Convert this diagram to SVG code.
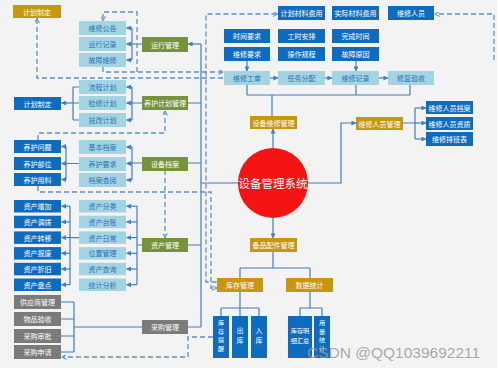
<svg xmlns="http://www.w3.org/2000/svg" width="499" height="368" viewBox="0 0 499 368">
<defs>
<marker id="ar" viewBox="0 0 6 6" refX="5.5" refY="3" markerWidth="5" markerHeight="5" markerUnits="userSpaceOnUse" orient="auto"><path d="M0,0 L6,3 L0,6 z" fill="#3f7fc4"/></marker>
<marker id="ad" viewBox="0 0 6 6" refX="5.5" refY="3" markerWidth="5" markerHeight="5" markerUnits="userSpaceOnUse" orient="auto"><path d="M0,0 L6,3 L0,6" fill="none" stroke="#5b8fd0" stroke-width="1.2"/></marker>
</defs>
<style>
text{font-family:"Noto Sans CJK SC","Noto Sans",sans-serif;font-size:7px;text-anchor:middle;dominant-baseline:central}
.v{font-size:6.2px}
.w{fill:#fff}
.lbt{fill:#2c6fb8}
.gold{fill:#c8960f}
.green{fill:#76923b}
.blue{fill:#0e6cc0}
.lb{fill:#a3d4e2}
.gray{fill:#7b7b7b}
.c path,.c line,.c polyline{fill:none;stroke:#3f7fc4;stroke-width:1.2}
.d path{fill:none;stroke:#5b8fd0;stroke-width:1.3;stroke-dasharray:5,3}
</style>
<rect width="499" height="368" fill="#f3f3f3"/>
<rect x="497" width="2" height="368" fill="#ffffff"/>

<g id="connectors">
<g class="c">
<line x1="247" y1="61" x2="247" y2="71" marker-end="url(#ar)"/>
<line x1="356" y1="61" x2="356" y2="71" marker-end="url(#ar)"/>
<line x1="270" y1="78" x2="278" y2="78" marker-end="url(#ar)"/>
<line x1="325" y1="78" x2="332" y2="78" marker-end="url(#ar)"/>
<line x1="379" y1="78" x2="388" y2="78" marker-end="url(#ar)"/>
<path d="M247,85 V95 M356,85 V95 M410,85 V95 M247,95 H410 M272,95 V116"/>
<line x1="273" y1="148" x2="273" y2="129" marker-end="url(#ar)"/>
<line x1="273" y1="218" x2="273" y2="238" marker-end="url(#ar)"/>
<path d="M308,183 H341 V123 H356" marker-end="url(#ar)"/>
<path d="M403,123 H415 M415,108 V139"/>
<line x1="415" y1="108" x2="426" y2="108" marker-end="url(#ar)"/>
<line x1="415" y1="123" x2="426" y2="123" marker-end="url(#ar)"/>
<line x1="415" y1="139" x2="426" y2="139" marker-end="url(#ar)"/>
<path d="M238,183 H201 M201,44 V327"/>
<line x1="201" y1="44" x2="188" y2="44" marker-end="url(#ar)"/>
<path d="M201,103 H188 M201,163 H188 M201,245 H188 M201,327 H188"/>
<path d="M142,44 H132 M132,28 V60"/>
<line x1="132" y1="28" x2="126.5" y2="28" marker-end="url(#ar)"/>
<line x1="132" y1="44" x2="126.5" y2="44" marker-end="url(#ar)"/>
<line x1="132" y1="60" x2="126.5" y2="60" marker-end="url(#ar)"/>
<path d="M142,103 H132 M132,87 V120"/>
<line x1="132" y1="87" x2="126.5" y2="87" marker-end="url(#ar)"/>
<line x1="132" y1="103" x2="126.5" y2="103" marker-end="url(#ar)"/>
<line x1="132" y1="120" x2="126.5" y2="120" marker-end="url(#ar)"/>
<path d="M79,87 H73 M79,103 H73 M79,120 H73 M73,87 V120"/>
<line x1="73" y1="103" x2="61.5" y2="103" marker-end="url(#ar)"/>
<path d="M142,163 H132 M132,147 V180"/>
<line x1="132" y1="147" x2="126.5" y2="147" marker-end="url(#ar)"/>
<line x1="132" y1="163.5" x2="126.5" y2="163.5" marker-end="url(#ar)"/>
<line x1="132" y1="180" x2="126.5" y2="180" marker-end="url(#ar)"/>
<path d="M79,163.5 H66 M66,146.5 V179.5"/>
<line x1="66" y1="146.5" x2="61.5" y2="146.5" marker-end="url(#ar)"/>
<line x1="66" y1="163.5" x2="61.5" y2="163.5" marker-end="url(#ar)"/>
<line x1="66" y1="179.5" x2="61.5" y2="179.5" marker-end="url(#ar)"/>
<path d="M142,245 H137 M137,206 V284.5"/>
<line x1="137" y1="206.2" x2="126.5" y2="206.2" marker-end="url(#ar)"/>
<line x1="137" y1="221.9" x2="126.5" y2="221.9" marker-end="url(#ar)"/>
<line x1="137" y1="237.6" x2="126.5" y2="237.6" marker-end="url(#ar)"/>
<line x1="137" y1="253.3" x2="126.5" y2="253.3" marker-end="url(#ar)"/>
<line x1="137" y1="269" x2="126.5" y2="269" marker-end="url(#ar)"/>
<line x1="137" y1="284.7" x2="126.5" y2="284.7" marker-end="url(#ar)"/>
<path d="M79,237.6 H70 M70,206.2 V284.7"/>
<line x1="70" y1="206.2" x2="61.5" y2="206.2" marker-end="url(#ar)"/>
<line x1="70" y1="221.9" x2="61.5" y2="221.9" marker-end="url(#ar)"/>
<line x1="70" y1="237.6" x2="61.5" y2="237.6" marker-end="url(#ar)"/>
<line x1="70" y1="253.3" x2="61.5" y2="253.3" marker-end="url(#ar)"/>
<line x1="70" y1="269" x2="61.5" y2="269" marker-end="url(#ar)"/>
<line x1="70" y1="284.7" x2="61.5" y2="284.7" marker-end="url(#ar)"/>
<path d="M61,302 H74 M61,319 H74 M61,336 H74 M61,352 H74 M74,302 V352 M74,327 H142"/>
<path d="M273,252 V268 M240,268 H310 M240,268 V278 M310,268 V278"/>
<path d="M240,292 V308 M221,308 H259 M221,308 V316 M240,308 V316 M259,308 V316"/>
<path d="M310,292 V308 M300,308 H322 M300,308 V316 M322,308 V316"/>
</g>
<g class="d">
<path d="M137,72 V12 H103 V20.5" marker-end="url(#ad)"/>
<path d="M103,67 V72 H223" marker-end="url(#ad)"/>
<path d="M223,78 H37 V18.5" marker-end="url(#ad)"/>
<path d="M38,140 V133 H165 V111" marker-end="url(#ad)"/>
<path d="M165,170 V237.5" marker-end="url(#ad)"/>
<path d="M38,186 V192 H211 V288 H216.5" marker-end="url(#ad)"/>
<path d="M216.5,282 H206 V14 H277.5" marker-end="url(#ad)"/>
<path d="M494,60 V14 H435" marker-end="url(#ad)"/>
<path d="M213,337 H188 V357 H62" marker-end="url(#ad)"/>
</g>
</g>

<g id="n_plan1"><rect class="gold" x="13" y="5" width="48" height="13"/><text class="w" x="37" y="11.5">计划制定</text></g>
<g id="n_wxgg"><rect class="lb" x="79" y="21" width="47" height="14"/><text class="lbt" x="102.5" y="28">维修公告</text></g>
<g id="n_yxjl"><rect class="lb" x="79" y="37" width="47" height="14"/><text class="lbt" x="102.5" y="44">运行记录</text></g>
<g id="n_gzwx"><rect class="lb" x="79" y="53" width="47" height="14"/><text class="lbt" x="102.5" y="60">故障维修</text></g>
<g id="n_yxgl"><rect class="green" x="142" y="37" width="46" height="15"/><text class="w" x="165" y="44.5">运行管理</text></g>

<g id="n_plan2"><rect class="blue" x="14" y="97" width="47" height="13"/><text class="w" x="37.5" y="103.5">计划制定</text></g>
<g id="n_lcjh"><rect class="lb" x="79" y="80" width="47" height="14"/><text class="lbt" x="102.5" y="87">流程计划</text></g>
<g id="n_jxjh"><rect class="lb" x="79" y="96" width="47" height="14"/><text class="lbt" x="102.5" y="103">检修计划</text></g>
<g id="n_jgjh"><rect class="lb" x="79" y="113" width="47" height="14"/><text class="lbt" x="102.5" y="120">技改计划</text></g>
<g id="n_yhjhgl"><rect class="green" x="142" y="96" width="46" height="14"/><text class="w" x="165" y="103">养护计划管理</text></g>

<g id="n_yhwt"><rect class="blue" x="14" y="140" width="47" height="13"/><text class="w" x="37.5" y="146.5">养护问题</text></g>
<g id="n_yhbw"><rect class="blue" x="14" y="157" width="47" height="13"/><text class="w" x="37.5" y="163.5">养护部位</text></g>
<g id="n_yhyl"><rect class="blue" x="14" y="173" width="47" height="13"/><text class="w" x="37.5" y="179.5">养护用料</text></g>
<g id="n_jbda"><rect class="lb" x="79" y="140" width="47" height="14"/><text class="lbt" x="102.5" y="147">基本档案</text></g>
<g id="n_yhyq"><rect class="lb" x="79" y="157" width="47" height="14"/><text class="lbt" x="102.5" y="164">养护要求</text></g>
<g id="n_dacy"><rect class="lb" x="79" y="173" width="47" height="14"/><text class="lbt" x="102.5" y="180">档案查阅</text></g>
<g id="n_sbda"><rect class="green" x="142" y="157" width="46" height="14"/><text class="w" x="165" y="164">设备档案</text></g>

<g id="n_zczj"><rect class="blue" x="14" y="200" width="47" height="12.5"/><text class="w" x="37.5" y="206.2">资产增加</text></g>
<g id="n_zcdb"><rect class="blue" x="14" y="215.7" width="47" height="12.5"/><text class="w" x="37.5" y="221.9">资产调拨</text></g>
<g id="n_zczy"><rect class="blue" x="14" y="231.4" width="47" height="12.5"/><text class="w" x="37.5" y="237.6">资产转移</text></g>
<g id="n_zcbf"><rect class="blue" x="14" y="247.1" width="47" height="12.5"/><text class="w" x="37.5" y="253.3">资产报废</text></g>
<g id="n_zczj2"><rect class="blue" x="14" y="262.8" width="47" height="12.5"/><text class="w" x="37.5" y="269">资产折旧</text></g>
<g id="n_zcpd"><rect class="blue" x="14" y="278.5" width="47" height="12.5"/><text class="w" x="37.5" y="284.7">资产盘点</text></g>
<g id="n_zcfl"><rect class="lb" x="79" y="200" width="47" height="12.5"/><text class="lbt" x="102.5" y="206.2">资产分类</text></g>
<g id="n_zctz"><rect class="lb" x="79" y="215.7" width="47" height="12.5"/><text class="lbt" x="102.5" y="221.9">资产台账</text></g>
<g id="n_zcrc"><rect class="lb" x="79" y="231.4" width="47" height="12.5"/><text class="lbt" x="102.5" y="237.6">资产日常</text></g>
<g id="n_wzgl"><rect class="lb" x="79" y="247.1" width="47" height="12.5"/><text class="lbt" x="102.5" y="253.3">位置管理</text></g>
<g id="n_zccx"><rect class="lb" x="79" y="262.8" width="47" height="12.5"/><text class="lbt" x="102.5" y="269">资产查询</text></g>
<g id="n_tjfx"><rect class="lb" x="79" y="278.5" width="47" height="12.5"/><text class="lbt" x="102.5" y="284.7">统计分析</text></g>
<g id="n_zcgl"><rect class="green" x="142" y="238" width="46" height="14"/><text class="w" x="165" y="245">资产管理</text></g>

<g id="n_gysgl"><rect class="gray" x="14" y="295" width="47" height="14"/><text class="w" x="37.5" y="302">供应商管理</text></g>
<g id="n_wpys"><rect class="gray" x="14" y="312" width="47" height="14"/><text class="w" x="37.5" y="319">物品验收</text></g>
<g id="n_cgsp"><rect class="gray" x="14" y="329" width="47" height="14"/><text class="w" x="37.5" y="336">采购审批</text></g>
<g id="n_cgsq"><rect class="gray" x="14" y="345" width="47" height="14"/><text class="w" x="37.5" y="352">采购申请</text></g>
<g id="n_cggl"><rect class="gray" x="142" y="320" width="46" height="14"/><text class="w" x="165" y="327">采购管理</text></g>

<g id="n_jhclfy"><rect class="blue" x="278" y="6" width="47" height="14"/><text class="w" x="301.5" y="13">计划材料费用</text></g>
<g id="n_sjclfy"><rect class="blue" x="332" y="6" width="47" height="14"/><text class="w" x="355.5" y="13">实际材料费用</text></g>
<g id="n_wxry"><rect class="blue" x="388" y="6" width="46" height="14"/><text class="w" x="411" y="13">维修人员</text></g>
<g id="n_sjyq"><rect class="blue" x="224" y="29" width="46" height="14"/><text class="w" x="247" y="36">时间要求</text></g>
<g id="n_gsap"><rect class="blue" x="278" y="29" width="47" height="14"/><text class="w" x="301.5" y="36">工时安排</text></g>
<g id="n_wcsj"><rect class="blue" x="332" y="29" width="47" height="14"/><text class="w" x="355.5" y="36">完成时间</text></g>
<g id="n_wxyq"><rect class="blue" x="224" y="47" width="46" height="14"/><text class="w" x="247" y="54">维修要求</text></g>
<g id="n_czgc"><rect class="blue" x="278" y="47" width="47" height="14"/><text class="w" x="301.5" y="54">操作规程</text></g>
<g id="n_gzyy"><rect class="blue" x="332" y="47" width="47" height="14"/><text class="w" x="355.5" y="54">故障原因</text></g>
<g id="n_wxgd"><rect class="lb" x="224" y="71" width="46" height="14"/><text class="lbt" x="247" y="78">维修工单</text></g>
<g id="n_rwfp"><rect class="lb" x="278" y="71" width="47" height="14"/><text class="lbt" x="301.5" y="78">任务分配</text></g>
<g id="n_wxjl"><rect class="lb" x="332" y="71" width="47" height="14"/><text class="lbt" x="355.5" y="78">维修记录</text></g>
<g id="n_xfys"><rect class="lb" x="388" y="71" width="46" height="14"/><text class="lbt" x="411" y="78">修复验收</text></g>
<g id="n_sbwxgl"><rect class="gold" x="250" y="116" width="47" height="13"/><text class="w" x="273.5" y="122.5">设备维修管理</text></g>
<g id="n_wxrygl"><rect class="gold" x="356" y="117" width="47" height="13"/><text class="w" x="379.5" y="123.5">维修人员管理</text></g>
<g id="n_wxryda"><rect class="blue" x="426" y="101" width="47" height="13"/><text class="w" x="449.5" y="107.5">维修人员档案</text></g>
<g id="n_wxryzz"><rect class="blue" x="426" y="117" width="47" height="13"/><text class="w" x="449.5" y="123.5">维修人员资质</text></g>
<g id="n_wxpbb"><rect class="blue" x="426" y="132" width="47" height="14"/><text class="w" x="449.5" y="139">维修排班表</text></g>

<g id="n_center"><circle cx="273" cy="183" r="35" fill="#f41414"/><text class="w" x="273" y="183" style="font-size:11.5px">设备管理系统</text></g>

<g id="n_bpgl"><rect class="gold" x="250" y="238" width="47" height="14"/><text class="w" x="273.5" y="245">备品配件管理</text></g>
<g id="n_kcgl"><rect class="gold" x="217" y="278" width="46" height="14"/><text class="w" x="240" y="285">库存管理</text></g>
<g id="n_sjtj"><rect class="gold" x="286" y="278" width="47" height="14"/><text class="w" x="309.5" y="285">数据统计</text></g>

<g id="n_kctx"><rect class="blue" x="213" y="316" width="16" height="42"/><text class="w v" x="221" y="322.5">库</text><text class="w v" x="221" y="331">存</text><text class="w v" x="221" y="339.5">提</text><text class="w v" x="221" y="348">醒</text></g>
<g id="n_ck"><rect class="blue" x="232" y="316" width="16" height="42"/><text class="w" x="240" y="330">出</text><text class="w" x="240" y="340">库</text></g>
<g id="n_rk"><rect class="blue" x="251" y="316" width="16" height="42"/><text class="w" x="259" y="330">入</text><text class="w" x="259" y="340">库</text></g>
<g id="n_kcmx"><rect class="blue" x="288" y="316" width="24" height="42"/><text class="w v" x="300" y="330">库存明</text><text class="w v" x="300" y="340">细汇总</text></g>
<g id="n_yltj"><rect class="blue" x="314" y="316" width="16" height="42"/><text class="w v" x="322" y="322.5">用</text><text class="w v" x="322" y="331">量</text><text class="w v" x="322" y="339.5">统</text><text class="w v" x="322" y="348">计</text></g>

<text x="307" y="352" style="font-family:'Liberation Sans',Arial,sans-serif;font-size:15.5px;text-anchor:start;fill:#9a9a9a;fill-opacity:0.85">CSDN @QQ1039692211</text>
</svg>
